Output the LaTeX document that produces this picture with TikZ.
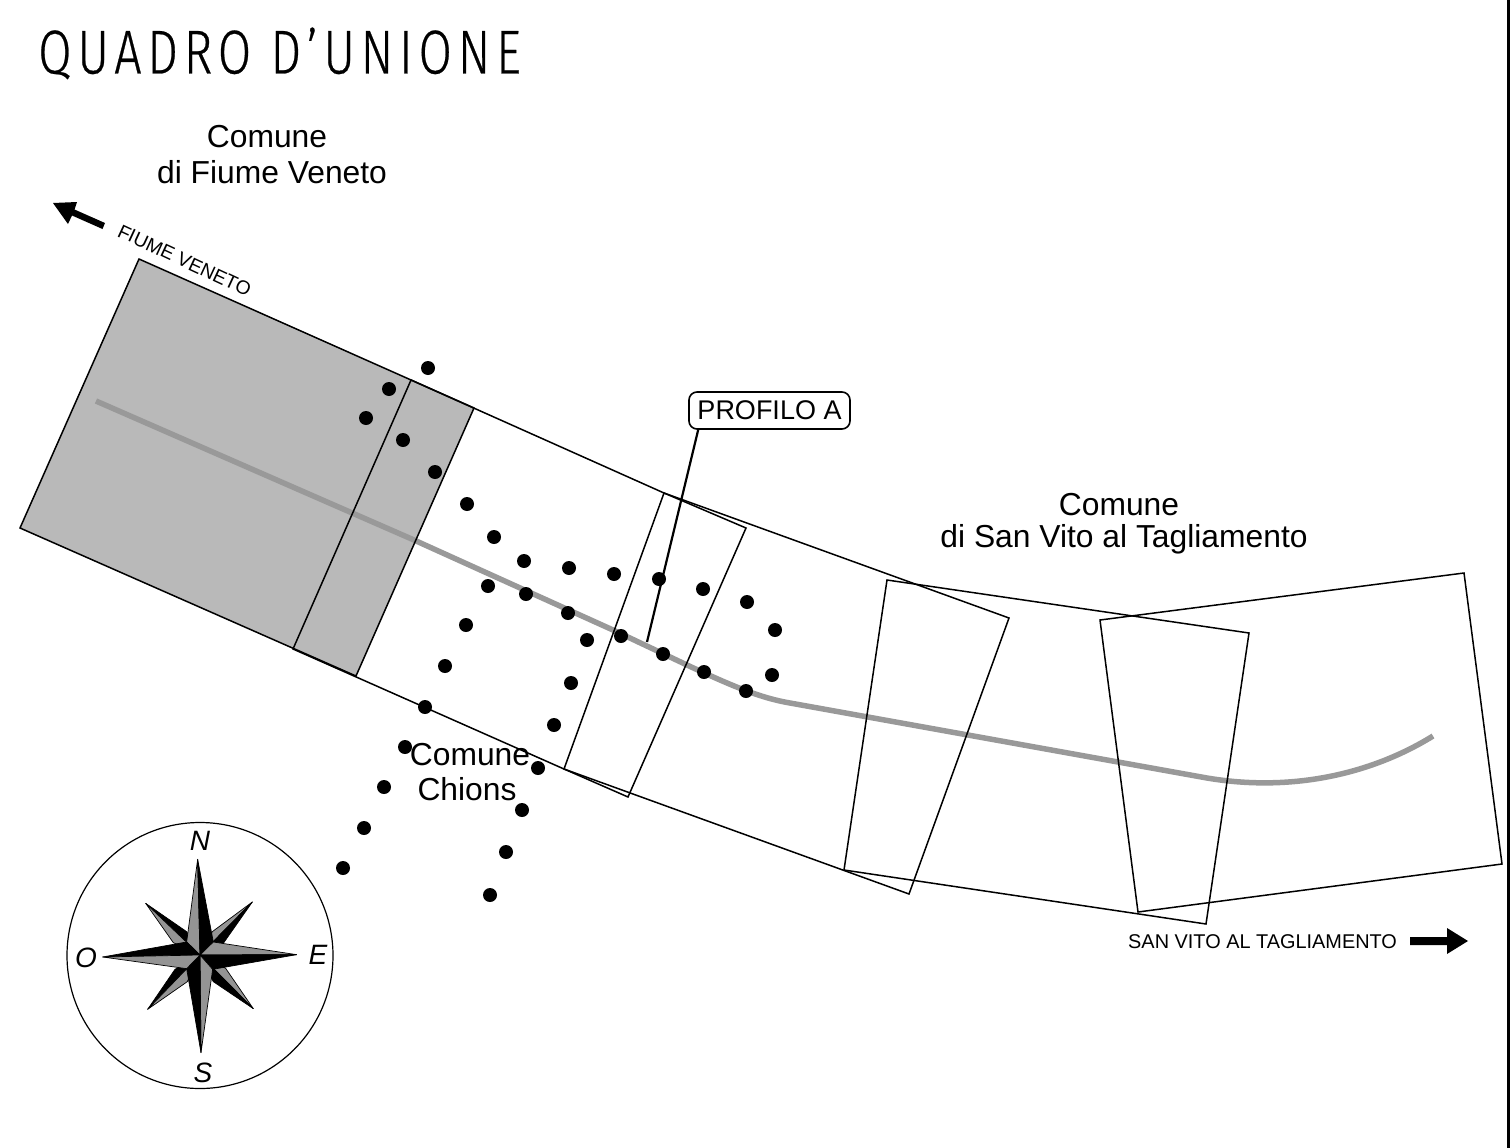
\documentclass[tikz,border=0pt]{standalone}
\usepackage{fontspec}
\setmainfont{Liberation Sans}
\newfontfamily\titlefont[FakeStretch=0.78,LetterSpace=9.4,FakeBold=0.4]{Fira Sans Light}
\tikzset{
  sheet/.style={draw=black,line width=1.5pt,line join=miter},
  road/.style={draw=roadgray,line width=5.5pt},
  pin/.style={circle,fill=black,draw=none,inner sep=0pt,minimum size=14pt},
  lab/.style={font=\fontsize{31.8}{32}\selectfont,anchor=base,inner sep=0pt,text=black},
  small/.style={font=\fontsize{19.9}{20}\selectfont,inner sep=0pt,text=black},
  smaller/.style={font=\fontsize{19.3}{20}\selectfont,inner sep=0pt,text=black},
  card/.style={font=\fontsize{28}{28}\selectfont\itshape,inner sep=0pt,text=black},
  tipgray/.style={fill=stargray,draw=black,line width=0.7pt,line join=round},
  tipblack/.style={fill=black,draw=black,line width=0.7pt,line join=round}
}
\definecolor{roadgray}{HTML}{999999}
\definecolor{sheetgray}{HTML}{B9B9B9}
\definecolor{stargray}{HTML}{949494}
\begin{document}
\begin{tikzpicture}[x=1pt,y=-1pt]
\useasboundingbox (0,0) rectangle (1510,1148);
\fill[white] (0,0) rectangle (1510,1148);
\fill[black] (1507,0) rectangle (1510,1148);
% title
\node[anchor=base west,inner sep=0pt,font=\fontsize{62}{62}\selectfont\titlefont] (title) at (38,73.5) {QUADRO D’UNIONE};
% sheets
\path[fill=sheetgray] (139,259) -- (474,408) -- (356,676) -- (20,528) -- cycle;
\draw[road] (96,401) -- (414,540) -- (613,630) -- (687,665) .. controls (730,685) and (760,698) .. (790,703) -- (1207,778) .. controls (1290,792) and (1370,775) .. (1433,736);
\draw[sheet] (139,259) -- (474,408) -- (356,676) -- (20,528) -- cycle;
\draw[sheet] (411,380) -- (664,493) -- (746,528) -- (628,797) -- (564,769) -- (293,649) -- cycle;
\draw[sheet] (664,493) -- (1009,618) -- (909,894) -- (564,769) -- cycle;
\draw[sheet] (887,580) -- (1249,633) -- (1206,924) -- (844,870) -- cycle;
\draw[sheet] (1100,620) -- (1464,573) -- (1502,864) -- (1138,912) -- cycle;
% dots
\foreach \px/\py in {428/368,389/389,366/418,403/440,435/472,467/504,494/537,524/561,569/568,614/574,659/579,703/589,747/602,775/630,772/675,746/691,704/672,663/654,621/636,587/640,568/613,526/594,488/586,466/625,445/666,425/707,405/747,384/787,364/828,343/868,571/683,554/725,538/768,522/810,506/852,490/895}
  \node[pin] at (\px,\py) {};
% profile label
\node[draw=black,line width=1.6pt,rounded corners=8pt,inner sep=0pt,minimum width=161pt,minimum height=37pt,font=\fontsize{27}{27}\selectfont] (prof) at (769.5,410.5) {PROFILO A};
\coordinate (profend) at (647,642);
\draw[line width=2.2pt] (prof.south west) ++(10,0) -- (profend);
% labels
\node[lab] (c1a) at (267,147) {Comune};
\node[lab] (c1b) at (272,183) {di Fiume Veneto};
\node[lab] (c2a) at (1119,515) {Comune};
\node[lab] (c2b) at (1124,547) {di San Vito al Tagliamento};
\node[lab] (c3a) at (470,765) {Comune};
\node[lab] (c3b) at (467,800) {Chions};
\node[smaller,rotate=-25] (fv) at (184.5,260.5) {FIUME VENETO};
\node[small,anchor=west] (sv) at (1128,942) {SAN VITO AL TAGLIAMENTO};
% arrows
\fill[black] (53,203) -- (77,202) -- (74.5,209.5) -- (105,223) -- (102.5,229) -- (72,215.5) -- (68,224) -- cycle;
\fill[black] (1468,941) -- (1447,928) -- (1447,937) -- (1410,937) -- (1410,945) -- (1447,945) -- (1447,954) -- cycle;
% compass
\node[circle,draw=black,line width=1.2pt,minimum size=266pt,inner sep=0pt] (rose) at (200,955.5) {};
\begin{scope}[shift={(50,810)},x=0.3333pt,y=-0.3333pt]
  \path[tipgray] (450,435) -- (607,276) -- (487,365) -- cycle;
  \path[tipblack] (450,435) -- (607,276) -- (520,400) -- cycle;
  \path[tipblack] (450,435) -- (287,280) -- (410,365) -- cycle;
  \path[tipgray] (450,435) -- (287,280) -- (370,398) -- cycle;
  \path[tipgray] (450,435) -- (610,596) -- (527,475) -- cycle;
  \path[tipblack] (450,435) -- (610,596) -- (490,515) -- cycle;
  \path[tipblack] (450,435) -- (293,598) -- (375,478) -- cycle;
  \path[tipgray] (450,435) -- (293,598) -- (412,515) -- cycle;
  \path[tipgray] (450,435) -- (443,148) -- (410,396) -- cycle;
  \path[tipblack] (450,435) -- (443,148) -- (490,396) -- cycle;
  \path[tipgray] (450,435) -- (740,434) -- (490,396) -- cycle;
  \path[tipblack] (450,435) -- (740,434) -- (488,478) -- cycle;
  \path[tipgray] (450,435) -- (453,728) -- (488,478) -- cycle;
  \path[tipblack] (450,435) -- (453,728) -- (410,476) -- cycle;
  \path[tipblack] (450,435) -- (158,441) -- (410,396) -- cycle;
  \path[tipgray] (450,435) -- (158,441) -- (410,476) -- cycle;
\end{scope}
\node[card] (cn) at (200,841) {N};
\node[card] (cs) at (203,1073) {S};
\node[card] (ce) at (318,955) {E};
\node[card] (co) at (86,958) {O};
\end{tikzpicture}
\end{document}
